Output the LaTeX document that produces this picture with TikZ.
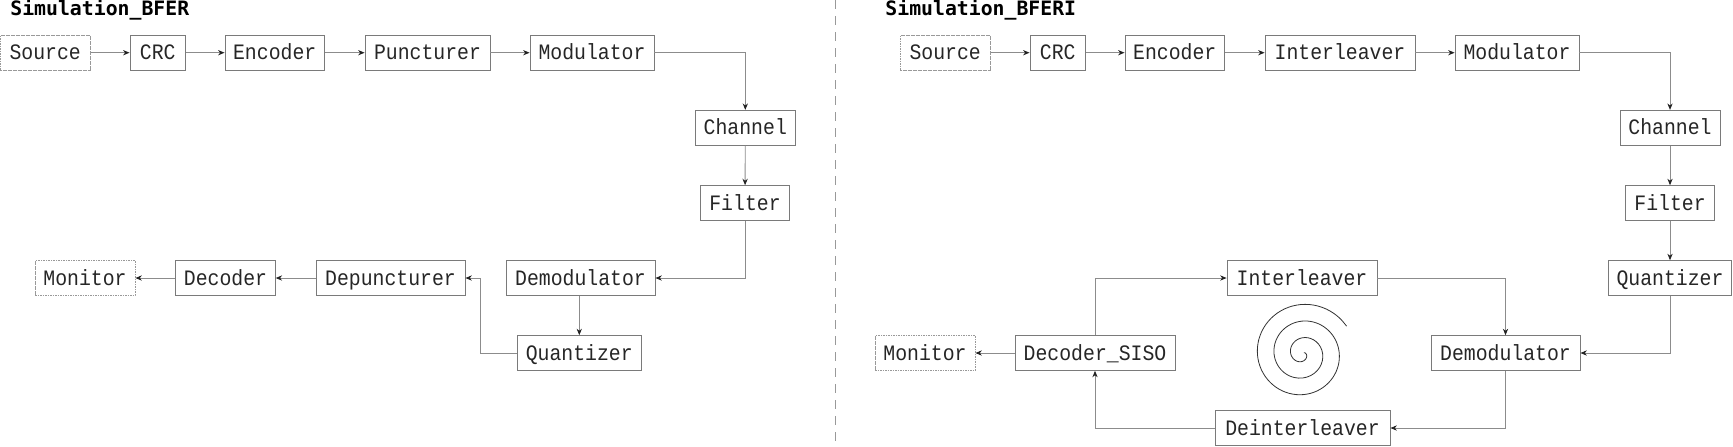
\documentclass[tikz,border=0pt]{standalone}
\usepackage{fontspec}
\newfontfamily\boxfont[FakeStretch=0.9]{Liberation Mono}
\newfontfamily\titlefont{DejaVu Sans Mono}
\usetikzlibrary{arrows.meta}
\definecolor{boxline}{HTML}{7A7A7A}
\definecolor{wire}{HTML}{8C8C8C}
\definecolor{tipc}{HTML}{222222}
\tikzset{
  block/.style={draw=boxline,line width=0.42pt,inner sep=0pt,minimum height=17.4pt,text height=7pt,text depth=0pt,align=center,
     font=\fontsize{11pt}{12pt}\boxfont,text=black!85},
  extblock/.style={block,draw=gray!80,dash pattern=on 0.9pt off 0.35pt},
  wirel/.style={draw=wire,line width=0.42pt,-{Stealth[length=3.2pt,width=2.6pt,inset=1pt,color=tipc]}},
  sepl/.style={draw=gray!80,line width=0.42pt,dash pattern=on 4.5pt off 3.5pt},
  titlel/.style={inner sep=0pt,anchor=base west,font=\fontsize{9.9pt}{12pt}\titlefont\bfseries,text=black},
}
\newcommand{\blk}[6][block]{\node[#1,minimum width=#5*0.5pt] (#2) at (#3,#4) {#6};}
\begin{document}
\begin{tikzpicture}[x=0.5pt,y=-0.5pt]
\useasboundingbox (0,0) rectangle (1733,446);
% left
\node[titlel] (tl) at (10,15.5) {Simulation\_BFER};
\blk[extblock]{lsrc}{45.2}{52.7}{90}{Source}
\blk{lcrc}{157.7}{52.7}{55.5}{CRC}
\blk{lenc}{274.7}{52.7}{99.5}{Encoder}
\blk{lpun}{427.5}{52.7}{125}{Puncturer}
\blk{lmod}{592}{52.7}{124}{Modulator}
\blk{lcha}{745.3}{127.7}{100}{Channel}
\blk{lfil}{745}{203}{89}{Filter}
\blk{ldem}{580.5}{278}{149}{Demodulator}
\blk{lqua}{579.3}{353}{124}{Quantizer}
\blk{ldep}{390.5}{278}{149}{Depuncturer}
\blk{ldec}{225.5}{278}{99.5}{Decoder}
\blk[extblock]{lmon}{85}{278}{100}{Monitor}
\draw[wirel] (lsrc) -- (lcrc);
\draw[wirel] (lcrc) -- (lenc);
\draw[wirel] (lenc) -- (lpun);
\draw[wirel] (lpun) -- (lmod);
\draw[wirel] (lmod) -| (lcha);
\draw[wirel] (lcha) -- (lfil);
\draw[wirel] (lfil) |- (ldem);
\draw[wirel] (ldem.south -| lqua) -- (lqua);
\draw[wirel] (lqua.west) -- ++(-36,0) |- (ldep.east);
\draw[wirel] (ldep) -- (ldec);
\draw[wirel] (ldec) -- (lmon);
% separator
\coordinate (sa) at (835.5,0);
\coordinate (sb) at (835.5,446);
\draw[sepl] (sa) -- (sb);
% right
\node[titlel] (tr) at (885,15.5) {Simulation\_BFERI};
\blk[extblock]{rsrc}{945.2}{52.7}{90}{Source}
\blk{rcrc}{1057.7}{52.7}{55.5}{CRC}
\blk{renc}{1174.7}{52.7}{99.5}{Encoder}
\blk{ritl}{1340}{52.7}{150}{Interleaver}
\blk{rmod}{1517}{52.7}{124}{Modulator}
\blk{rcha}{1670}{127.7}{100}{Channel}
\blk{rfil}{1670}{203}{89}{Filter}
\blk{rqua}{1670}{278}{123}{Quantizer}
\blk{rdem}{1505.5}{353}{149}{Demodulator}
\blk{rint}{1302}{278}{150}{Interleaver}
\blk{rdei}{1302.5}{428}{175}{Deinterleaver}
\blk{rdec}{1095}{353}{160}{Decoder\_SISO}
\blk[extblock]{rmon}{925}{353}{100}{Monitor}
\draw[wirel] (rsrc) -- (rcrc);
\draw[wirel] (rcrc) -- (renc);
\draw[wirel] (renc) -- (ritl);
\draw[wirel] (ritl) -- (rmod);
\draw[wirel] (rmod) -| (rcha);
\draw[wirel] (rcha) -- (rfil);
\draw[wirel] (rfil) -- (rqua);
\draw[wirel] (rqua) |- (rdem);
\draw[wirel] (rdem) |- (rdei);
\draw[wirel] (rdei) -| (rdec);
\draw[wirel] (rdec) |- (rint);
\draw[wirel] (rint) -| (rdem);
\draw[wirel] (rdec) -- (rmon);
% spiral
\draw[black!80,line width=0.4pt] plot[smooth,domain=32:1120,samples=110,variable=\t]
  ({1302.5+(49.3-0.0463*(\t-90))*cos(\t)},{353.7-(49.3-0.0463*(\t-90))*sin(\t)});
\end{tikzpicture}
\end{document}
